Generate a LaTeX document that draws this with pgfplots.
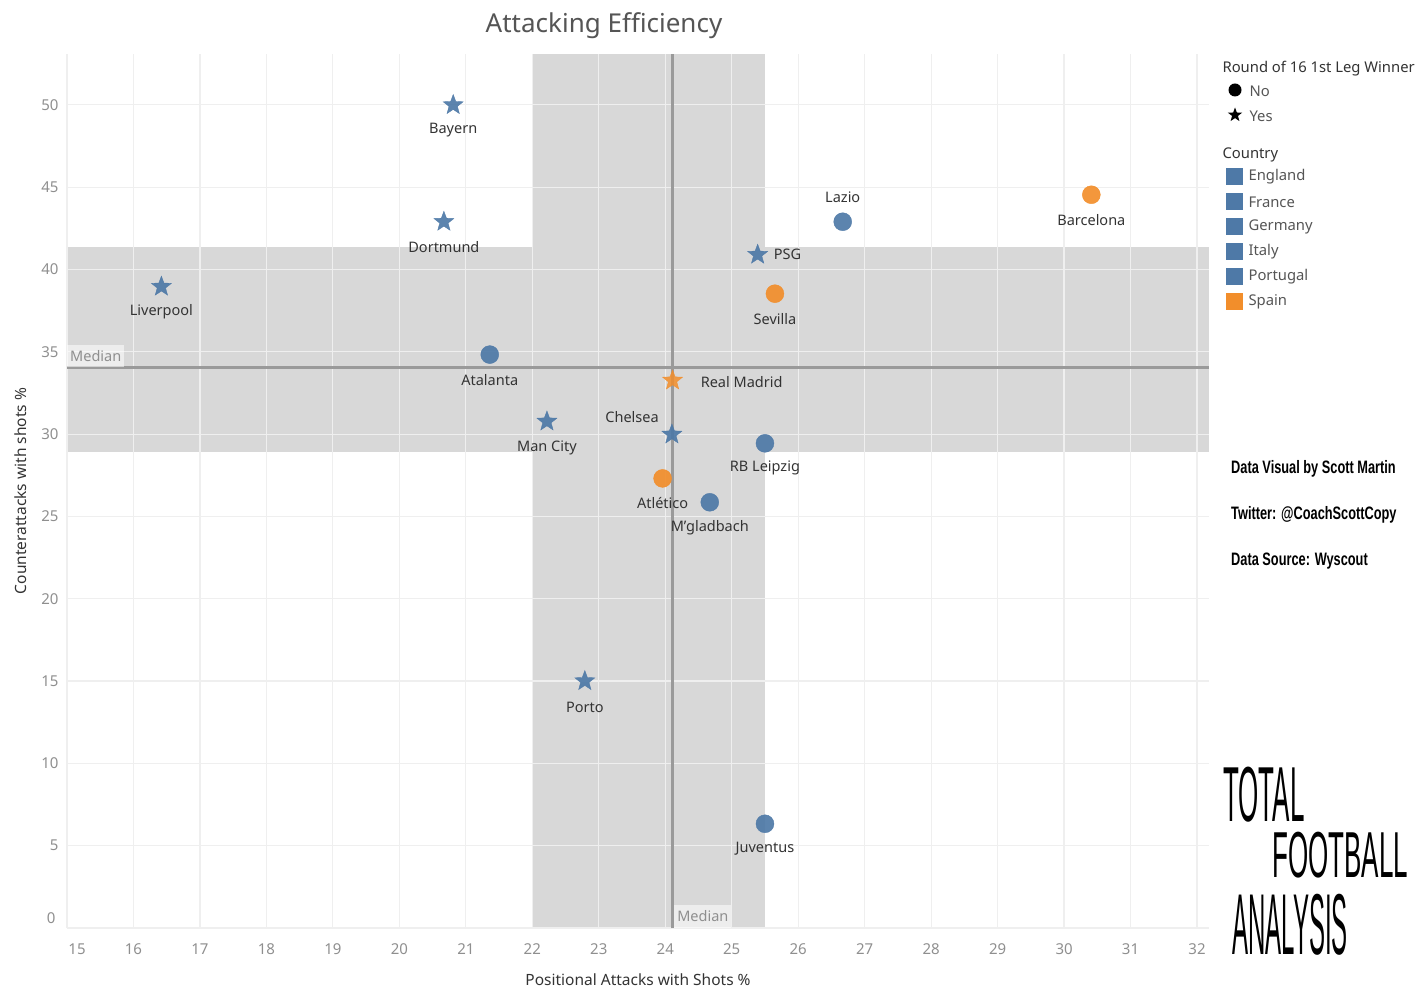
\documentclass[border=0pt]{standalone}
\usepackage{fontspec}
\setmainfont{Noto Sans}
\newfontfamily\credfont{Liberation Sans}
\usepackage{pgfplots}
\pgfplotsset{compat=1.18}
\definecolor{tblue}{HTML}{4E79A7}
\definecolor{torange}{HTML}{F28E2B}
\definecolor{band}{HTML}{D8D8D8}
\definecolor{gridc}{HTML}{EFEFEF}
\definecolor{medc}{HTML}{9A9A9A}
\definecolor{tickc}{HTML}{8F8F8F}
\definecolor{labc}{HTML}{333333}
\definecolor{legc}{HTML}{555555}
\pgfdeclareplotmark{fstar}{%
  \pgfpathmoveto{\pgfpointpolar{90}{\pgfplotmarksize}}%
  \pgfpathlineto{\pgfpointpolar{126}{0.42\pgfplotmarksize}}%
  \pgfpathlineto{\pgfpointpolar{162}{\pgfplotmarksize}}%
  \pgfpathlineto{\pgfpointpolar{198}{0.42\pgfplotmarksize}}%
  \pgfpathlineto{\pgfpointpolar{234}{\pgfplotmarksize}}%
  \pgfpathlineto{\pgfpointpolar{270}{0.42\pgfplotmarksize}}%
  \pgfpathlineto{\pgfpointpolar{306}{\pgfplotmarksize}}%
  \pgfpathlineto{\pgfpointpolar{342}{0.42\pgfplotmarksize}}%
  \pgfpathlineto{\pgfpointpolar{18}{\pgfplotmarksize}}%
  \pgfpathlineto{\pgfpointpolar{54}{0.42\pgfplotmarksize}}%
  \pgfpathclose
  \pgfusepathqfillstroke}
\begin{document}
\begin{tikzpicture}
\begin{axis}[
  at={(0,0)}, anchor=south west,
  scale only axis, width=1142pt, height=874pt,
  xmin=15, xmax=32.18, ymin=0, ymax=53.09,
  axis line style={draw=none},
  major tick length=0pt,
  xtick={16,17,...,32}, ytick={5,10,...,50},
  /pgf/number format/assume math mode=true,
  ticklabel style={font=\fontsize{15}{17}\selectfont, text=tickc},
  xticklabel style={yshift=-12pt},
  yticklabel style={xshift=-5pt},
  clip=false,
]
\fill[band] (axis cs:22,0) rectangle (axis cs:25.5,53.09);
\fill[band] (axis cs:15,28.89) rectangle (axis cs:32.18,41.38);
\pgfplotsinvokeforeach{15,...,32}{\draw[gridc, line width=1.2pt] (axis cs:#1,0) -- (axis cs:#1,53.09);}
\pgfplotsinvokeforeach{0,5,...,50}{\draw[gridc, line width=1.2pt] (axis cs:15,#1) -- (axis cs:32.18,#1);}
% medians
\draw[medc, line width=2.5pt] (axis cs:24.11,0) -- (axis cs:24.11,53.09);
\draw[medc, line width=2.5pt] (axis cs:15,34.05) -- (axis cs:32.18,34.05);
\node[anchor=south west, fill=white, fill opacity=0.55, text opacity=1, text=tickc, inner xsep=3pt, inner ysep=2pt, minimum height=23pt, font=\fontsize{14.5}{16}\selectfont, xshift=1.5pt] at (axis cs:24.11,0) {Median};
\node[anchor=west, fill=white, fill opacity=0.55, text opacity=1, text=tickc, inner xsep=3pt, inner ysep=2pt, minimum height=22pt, font=\fontsize{14.5}{16}\selectfont, yshift=11.5pt] at (axis cs:15,34.05) {Median};
% data: No (circles)
\addplot[only marks, mark=*, mark size=9pt, mark options={draw=tblue, fill=tblue, opacity=0.92}] coordinates {
(21.36,34.83) (24.67,25.86) (25.50,29.44) (25.50,6.33) (26.67,42.90)};
\addplot[only marks, mark=*, mark size=9pt, mark options={draw=torange, fill=torange, opacity=0.92}] coordinates {
(23.96,27.31) (25.65,38.53) (30.41,44.54)};
% Yes (stars)
\addplot[only marks, mark=fstar, mark size=10.5pt, mark options={draw=tblue, fill=tblue, opacity=0.92}] coordinates {
(20.81,49.99) (20.67,42.90) (16.42,38.96) (22.22,30.77) (22.79,15.00) (24.10,29.98) (25.39,40.90)};
\addplot[only marks, mark=fstar, mark size=10.5pt, mark options={draw=torange, fill=torange, opacity=0.85}] coordinates {
(24.11,33.26)};
% point labels
\node[text=labc, font=\fontsize{14.5}{16}\selectfont, inner sep=0pt, yshift=-25pt] at (axis cs:20.81,49.99) {Bayern};
\node[text=labc, font=\fontsize{14.5}{16}\selectfont, inner sep=0pt, yshift=-25pt] at (axis cs:20.67,42.90) {Dortmund};
\node[text=labc, font=\fontsize{14.5}{16}\selectfont, inner sep=0pt, yshift=-25pt] at (axis cs:16.42,38.96) {Liverpool};
\node[text=labc, font=\fontsize{14.5}{16}\selectfont, inner sep=0pt, yshift=-25pt] at (axis cs:21.36,34.83) {Atalanta};
\node[text=labc, font=\fontsize{14.5}{16}\selectfont, inner sep=0pt, yshift=-26pt] at (axis cs:22.22,30.77) {Man City};
\node[text=labc, font=\fontsize{14.5}{16}\selectfont, inner sep=0pt, yshift=-26pt] at (axis cs:22.79,15.00) {Porto};
\node[text=labc, font=\fontsize{14.5}{16}\selectfont, inner sep=0pt, anchor=west, xshift=28pt, yshift=-2pt] at (axis cs:24.11,33.26) {Real Madrid};
\node[text=labc, font=\fontsize{14.5}{16}\selectfont, inner sep=0pt, anchor=east, xshift=-13pt, yshift=17pt] at (axis cs:24.10,29.98) {Chelsea};
\node[text=labc, font=\fontsize{14.5}{16}\selectfont, inner sep=0pt, yshift=-25pt] at (axis cs:23.96,27.31) {Atlético};
\node[text=labc, font=\fontsize{14.5}{16}\selectfont, inner sep=0pt, yshift=-25pt] at (axis cs:24.67,25.86) {M’gladbach};
\node[text=labc, font=\fontsize{14.5}{16}\selectfont, inner sep=0pt, yshift=-25pt] at (axis cs:25.50,29.44) {RB Leipzig};
\node[text=labc, font=\fontsize{14.5}{16}\selectfont, inner sep=0pt, yshift=-25pt] at (axis cs:25.50,6.33) {Juventus};
\node[text=labc, font=\fontsize{14.5}{16}\selectfont, inner sep=0pt, anchor=west, xshift=16pt] at (axis cs:25.39,40.90) {PSG};
\node[text=labc, font=\fontsize{14.5}{16}\selectfont, inner sep=0pt, yshift=-25pt] at (axis cs:25.65,38.53) {Sevilla};
\node[text=labc, font=\fontsize{14.5}{16}\selectfont, inner sep=0pt, yshift=25pt] at (axis cs:26.67,42.90) {Lazio};
\node[text=labc, font=\fontsize{14.5}{16}\selectfont, inner sep=0pt, yshift=-25pt] at (axis cs:30.41,44.54) {Barcelona};
\end{axis}
\useasboundingbox (-67pt,-72pt) rectangle (1353pt,928pt);
% edge tick labels
\node[text=tickc, font=\fontsize{15}{17}\selectfont] at (10pt,-21pt) {15};
\node[text=tickc, font=\fontsize{15}{17}\selectfont, anchor=east] at (-8pt,10pt) {0};
% title and axis titles
\node[text=legc, font=\fontsize{26}{30}\selectfont] at (537pt,902pt) {Attacking Efficiency};
\node[text=labc, font=\fontsize{15.5}{18}\selectfont] at (571pt,-52pt) {Positional Attacks with Shots \%};
\node[text=labc, font=\fontsize{15.5}{18}\selectfont, rotate=90] at (-46pt,437pt) {Counterattacks with shots \%};
% legend (pixel coords relative to image top-left)
\begin{scope}[shift={(-67pt,928pt)}]
\node[anchor=west, text=labc, font=\fontsize{14.8}{17}\selectfont] at (1219pt,-69pt) {Round of 16 1st Leg Winner};
\fill[black] (1235pt,-90pt) circle (6.5pt);
\node[anchor=west, text=legc, font=\fontsize{14.8}{17}\selectfont] at (1246pt,-91pt) {No};
\node[anchor=west, text=legc, font=\fontsize{14.8}{17}\selectfont] at (1246pt,-116pt) {Yes};
\node[anchor=west, text=labc, font=\fontsize{14.8}{17}\selectfont] at (1219pt,-155pt) {Country};
\foreach \y/\c/\n in {177/tblue/England,202/tblue/France,227/tblue/Germany,252/tblue/Italy,277/tblue/Portugal,302/torange/Spain}{
  \fill[\c] (1226pt,-\y pt-8.5pt) rectangle (1243pt,-\y pt+8.5pt);
  \node[anchor=west, text=legc, font=\fontsize{14.8}{17}\selectfont] at (1245pt,-\y pt) {\n};
}
\end{scope}
\begin{scope}[shift={(1168pt,813pt)}]
\fill[black] (90:7.5pt) -- (126:3.1pt) -- (162:7.5pt) -- (198:3.1pt) -- (234:7.5pt) -- (270:3.1pt) -- (306:7.5pt) -- (342:3.1pt) -- (18:7.5pt) -- (54:3.1pt) -- cycle;
\end{scope}
% credits
\node[anchor=west, inner sep=0pt, font=\credfont\bfseries\fontsize{18}{19}\selectfont] at (1164pt,459pt) {\scalebox{0.71}[1]{Data Visual by Scott Martin}};
\node[anchor=west, inner sep=0pt, font=\credfont\bfseries\fontsize{18}{19}\selectfont] at (1164pt,413pt) {\scalebox{0.71}[1]{Twitter: @CoachScottCopy}};
\node[anchor=west, inner sep=0pt, font=\credfont\bfseries\fontsize{18}{19}\selectfont] at (1164pt,367pt) {\scalebox{0.71}[1]{Data Source: Wyscout}};
% logo
\node[anchor=west, inner sep=0pt, font=\credfont\fontsize{26}{26}\selectfont] at (1156pt,133pt) {\scalebox{1}[3.0]{TOTAL}};
\node[anchor=west, inner sep=0pt, font=\credfont\fontsize{26}{26}\selectfont] at (1205pt,73pt) {\scalebox{1}[2.5]{FOOTBALL}};
\node[anchor=west, inner sep=0pt, font=\credfont\fontsize{24}{24}\selectfont] at (1165pt,3pt) {\scalebox{1}[3.6]{ANALYSIS}};
\end{tikzpicture}
\end{document}
